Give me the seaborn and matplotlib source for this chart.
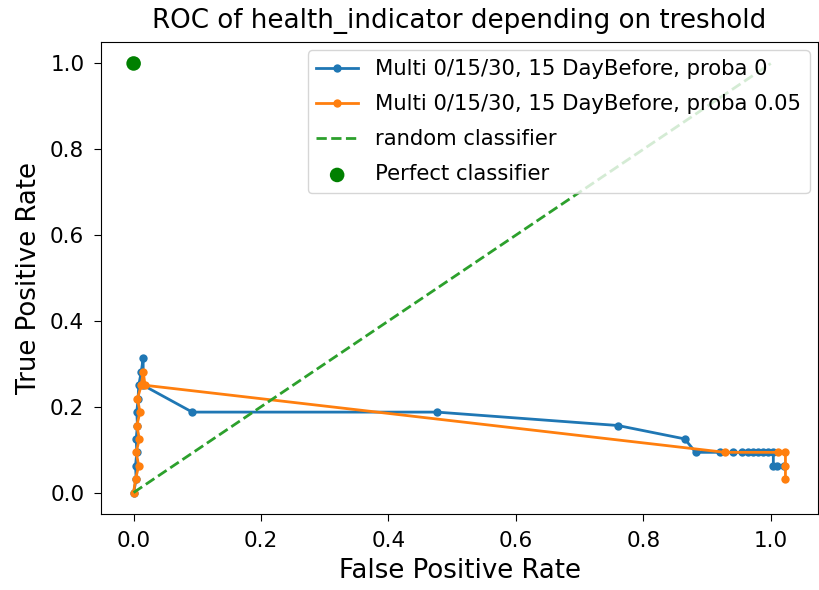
import matplotlib
matplotlib.use("Agg")
import matplotlib.pyplot as plt
import seaborn as sns
import pandas as pd

# ---- data ----
fpr_p0 = [0.0, 0.004, 0.003, 0.005, 0.004, 0.006, 0.005, 0.007, 0.008, 0.012, 0.015,
          0.015, 0.092, 0.476, 0.760, 0.865, 0.882, 0.920, 0.940, 0.955, 0.965, 0.972,
          0.980, 0.988, 0.995, 1.004, 1.004, 1.010, 1.020]
tpr_p0 = [0/32, 1/32, 2/32, 3/32, 4/32, 5/32, 6/32, 7/32, 8/32, 9/32, 10/32,
          8/32, 6/32, 6/32, 5/32, 4/32, 3/32, 3/32, 3/32, 3/32, 3/32, 3/32,
          3/32, 3/32, 3/32, 3/32, 2/32, 2/32, 2/32]

fpr_p05 = [0.0, 0.003, 0.008, 0.004, 0.009, 0.005, 0.010, 0.006, 0.012, 0.015,
           0.018, 0.928, 1.012, 1.023, 1.023, 1.023]
tpr_p05 = [0/32, 1/32, 2/32, 3/32, 4/32, 5/32, 6/32, 7/32, 8/32, 9/32,
           8/32, 3/32, 3/32, 3/32, 2/32, 1/32]

random_x = [0.0, 1.0]
random_y = [0.0, 1.0]
perfect_x = [0.0]
perfect_y = [1.0]

labels = ["Multi 0/15/30, 15 DayBefore, proba 0",
          "Multi 0/15/30, 15 DayBefore, proba 0.05",
          "random classifier",
          "Perfect classifier"]
title = "ROC of health_indicator depending on treshold"

fig, ax = plt.subplots(figsize=(8.2, 5.9), dpi=100)
fig.subplots_adjust(left=0.1232, right=0.9976, bottom=0.1288, top=0.9288)

df0 = pd.DataFrame({"x": fpr_p0, "y": tpr_p0})
df1 = pd.DataFrame({"x": fpr_p05, "y": tpr_p05})
sns.lineplot(data=df0, x="x", y="y", sort=False, estimator=None, ax=ax,
             color="#1f77b4", marker=".", markersize=12, markeredgewidth=0,
             linewidth=2.0, label=labels[0])
sns.lineplot(data=df1, x="x", y="y", sort=False, estimator=None, ax=ax,
             color="#ff7f0e", marker=".", markersize=12, markeredgewidth=0,
             linewidth=2.0, label=labels[1])
sns.lineplot(x=random_x, y=random_y, ax=ax, color="#2ca02c", linestyle="--",
             linewidth=2.0, label=labels[2])
sns.scatterplot(x=perfect_x, y=perfect_y, ax=ax, color="green", s=110,
                edgecolor="none", label=labels[3])

ax.set_title(title, fontsize=18.8, pad=10)
ax.set_xlabel("False Positive Rate", fontsize=18.7, labelpad=5)
ax.set_ylabel("True Positive Rate", fontsize=18.7, labelpad=6)
ax.tick_params(labelsize=15.5, length=5, pad=7)
ax.set_xticks([0.0, 0.2, 0.4, 0.6, 0.8, 1.0])
ax.set_yticks([0.0, 0.2, 0.4, 0.6, 0.8, 1.0])
ax.legend(loc="upper right", fontsize=15.2, labelspacing=0.72,
          borderaxespad=0.4)

fig.savefig("out.png", dpi=100)
